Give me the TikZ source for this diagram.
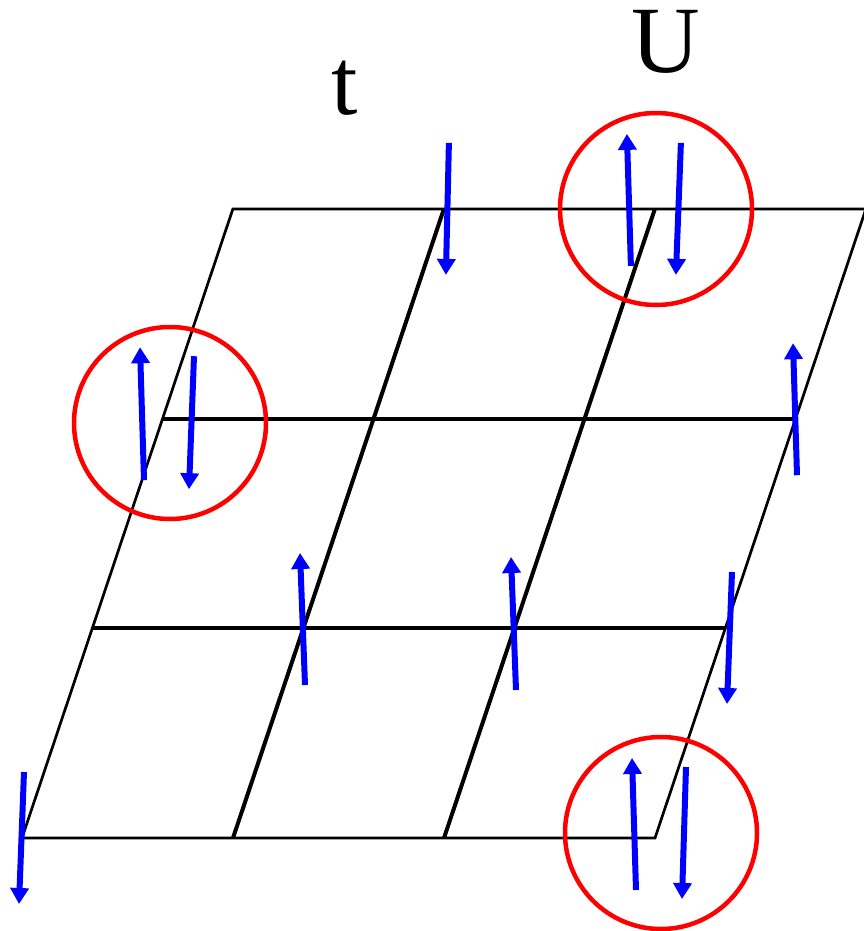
\documentclass[tikz,border=0pt]{standalone}
\usepackage{fontspec}
\setmainfont{Liberation Serif}
\newfontfamily\labelfont{Liberation Serif}
\usetikzlibrary{arrows.meta,calc}

\begin{document}
\begin{tikzpicture}[x=1pt, y=-1pt,
    edge/.style={draw, line width=2.7pt, line join=miter},
    bond/.style={draw, line width=4pt},
    spin/.style={blue, line width=6pt, -{Triangle[length=16pt,width=18pt]}},
    hub/.style={draw=red, line width=4.5pt, circle, minimum size=192pt, inner sep=0pt},
    lbl/.style={font=\labelfont\fontsize{95}{95}\selectfont, anchor=base, inner sep=0pt}
  ]
  \useasboundingbox (0,0) rectangle (863,931);
  % --- lattice sites ---
  \foreach \i in {0,...,3}
    \foreach \j in {0,...,3}
      \coordinate (s-\i-\j) at ({22+211*\i+70.3*\j}, {838-209.7*\j});

  % --- outer border and inner bonds ---
  \draw[edge] (s-0-0) -- (s-3-0) -- (s-3-3) -- (s-0-3) -- cycle;
  \draw[bond] (s-0-1) -- (s-3-1);
  \draw[bond] (s-0-2) -- (s-3-2);
  \draw[bond] (s-1-0) -- (s-1-3);
  \draw[bond] (s-2-0) -- (s-2-3);

  % --- doubly occupied sites ---
  \node[hub] (dbl-top) at (656,209) {};
  \node[hub] (dbl-left) at (170,423) {};
  \node[hub] (dbl-bot) at (661,833) {};

  % --- spins ---
  \draw[spin] (s-1-3) ++(5,-66) -- ++(-3,132);
  \draw[spin] (s-2-3) ++(-24,57) -- ++(-4,-132);
  \draw[spin] (s-2-3) ++(26,-66) -- ++(-5,132);
  \draw[spin] (s-0-2) ++(-18.6,61.6) -- ++(-4,-133);
  \draw[spin] (s-0-2) ++(31.4,-62.4) -- ++(-5,133);
  \draw[spin] (s-3-2) ++(1.4,56.6) -- ++(-4,-132);
  \draw[spin] (s-1-1) ++(1.7,56.7) -- ++(-5,-132);
  \draw[spin] (s-2-1) ++(1.7,61.7) -- ++(-5,-133);
  \draw[spin] (s-3-1) ++(6.7,-56.3) -- ++(-5,132);
  \draw[spin] (s-0-0) ++(2,-66) -- ++(-5,132);
  \draw[spin] (s-3-0) ++(-19,52) -- ++(-4,-132);
  \draw[spin] (s-3-0) ++(31,-71) -- ++(-4,132);

  % --- labels ---
  \node[lbl] (hop) at (345,114) {t};
  \node[lbl] (onsite) at (666,73) {U};
\end{tikzpicture}
\end{document}
